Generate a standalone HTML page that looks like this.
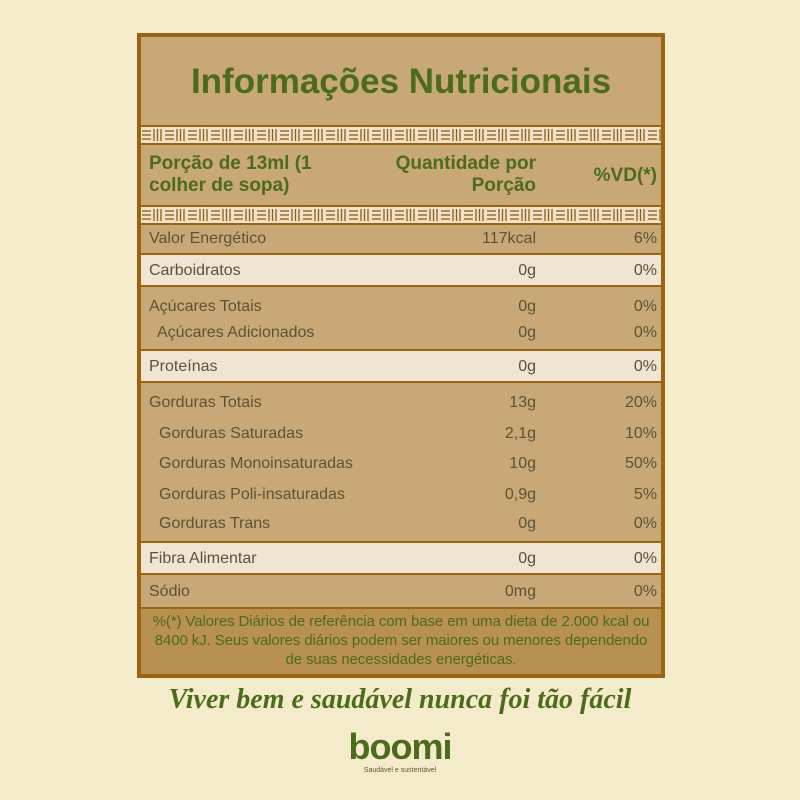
<!DOCTYPE html>
<html><head><meta charset="utf-8"><style>
body{margin:0;width:800px;height:800px;background:#f3ebc9;font-family:"Liberation Sans",sans-serif;position:relative;overflow:hidden}
.box{position:absolute;left:137px;top:33px;width:520px;height:637px;border:4px solid #9a6513;background:#c9a878}
.abs{position:absolute}
.title{left:0;top:0;width:520px;height:88px;text-align:center;line-height:90px;font-size:35px;font-weight:bold;color:#4c6b1c}
.hdr{color:#4c6b1c;font-weight:bold;font-size:19px;line-height:22px}
.row{left:0;width:520px;border-top:2px solid #9a6513;color:#5b5334;font-size:16px}
.light{background:#f0e5d2}
.r{position:absolute;left:0;width:520px}
.r span{position:absolute}
.n{left:8px}.q{right:125px}.v{right:4px}
.foot{left:0;top:570px;width:520px;height:67px;border-top:2px solid #9a6513;background:#b8904f;color:#4c6b1c;font-size:15px;line-height:19px;text-align:center;box-sizing:border-box;padding-top:3px;letter-spacing:-0.1px}
</style></head><body>
<div class="box">
<div class="abs title">Informações Nutricionais</div>
<svg class="abs" style="left:0;top:88px" width="520" height="20"><defs><pattern id="p" width="23" height="20" patternUnits="userSpaceOnUse"><rect width="23" height="20" fill="#efe2c8"/><g stroke="#8a5e1c" stroke-width="1.3"><line x1="1" y1="6" x2="10" y2="6"/><line x1="1" y1="10" x2="10" y2="10"/><line x1="1" y1="14" x2="10" y2="14"/><line x1="13" y1="4" x2="13" y2="16"/><line x1="16.5" y1="4" x2="16.5" y2="16"/><line x1="20" y1="4" x2="20" y2="16"/></g></pattern></defs><rect width="520" height="20" fill="url(#p)"/><line x1="0" y1="1" x2="520" y2="1" stroke="#9a6513" stroke-width="2"/><line x1="0" y1="19" x2="520" y2="19" stroke="#9a6513" stroke-width="2"/></svg>
<div class="abs hdr" style="left:8px;top:116px">Porção de 13ml (1<br>colher de sopa)</div>
<div class="abs hdr" style="right:125px;top:116px;text-align:right">Quantidade por<br>Porção</div>
<div class="abs hdr" style="right:4px;top:128px">%VD(*)</div>
<svg class="abs" style="left:0;top:168px" width="520" height="20"><rect width="520" height="20" fill="url(#p)"/><line x1="0" y1="1" x2="520" y2="1" stroke="#9a6513" stroke-width="2"/><line x1="0" y1="19" x2="520" y2="19" stroke="#9a6513" stroke-width="2"/></svg>

<div class="abs row" style="top:186px;height:30px;border-top:none"><div class="r" style="top:7px"><span class="n">Valor Energético</span><span class="q">117kcal</span><span class="v">6%</span></div></div>
<div class="abs row light" style="top:216px;height:30px"><div class="r" style="top:7px"><span class="n">Carboidratos</span><span class="q">0g</span><span class="v">0%</span></div></div>
<div class="abs row" style="top:248px;height:62px"><div class="r" style="top:11px"><span class="n">Açúcares Totais</span><span class="q">0g</span><span class="v">0%</span></div><div class="r" style="top:37px"><span class="n" style="left:16px">Açúcares Adicionados</span><span class="q">0g</span><span class="v">0%</span></div></div>
<div class="abs row light" style="top:312px;height:30px"><div class="r" style="top:7px"><span class="n">Proteínas</span><span class="q">0g</span><span class="v">0%</span></div></div>
<div class="abs row" style="top:344px;height:157px">
<div class="r" style="top:11px"><span class="n">Gorduras Totais</span><span class="q">13g</span><span class="v">20%</span></div>
<div class="r" style="top:42px"><span class="n" style="left:18px">Gorduras Saturadas</span><span class="q">2,1g</span><span class="v">10%</span></div>
<div class="r" style="top:72px"><span class="n" style="left:18px">Gorduras Monoinsaturadas</span><span class="q">10g</span><span class="v">50%</span></div>
<div class="r" style="top:103px"><span class="n" style="left:18px">Gorduras Poli-insaturadas</span><span class="q">0,9g</span><span class="v">5%</span></div>
<div class="r" style="top:132px"><span class="n" style="left:18px">Gorduras Trans</span><span class="q">0g</span><span class="v">0%</span></div>
</div>
<div class="abs row light" style="top:504px;height:30px"><div class="r" style="top:7px"><span class="n">Fibra Alimentar</span><span class="q">0g</span><span class="v">0%</span></div></div>
<div class="abs row" style="top:536px;height:32px"><div class="r" style="top:8px"><span class="n">Sódio</span><span class="q">0mg</span><span class="v">0%</span></div></div>
<div class="abs foot">%(*) Valores Diários de referência com base em uma dieta de 2.000 kcal ou<br>8400 kJ. Seus valores diários podem ser maiores ou menores dependendo<br>de suas necessidades energéticas.</div>
</div>
<div class="abs" style="left:0;top:684px;width:800px;text-align:center;font-family:'Liberation Serif',serif;font-style:italic;font-weight:bold;font-size:28px;color:#4c6b1c">Viver bem e saudável nunca foi tão fácil</div>
<div class="abs" style="left:0;top:726px;width:800px;text-align:center;font-weight:bold;font-size:36px;color:#4c6b1c;letter-spacing:-1px">boomi</div>
<div class="abs" style="left:0;top:767px;width:800px;text-align:center;font-size:7px;color:#5b5334">Saudável e sustentável</div>
</body></html>
